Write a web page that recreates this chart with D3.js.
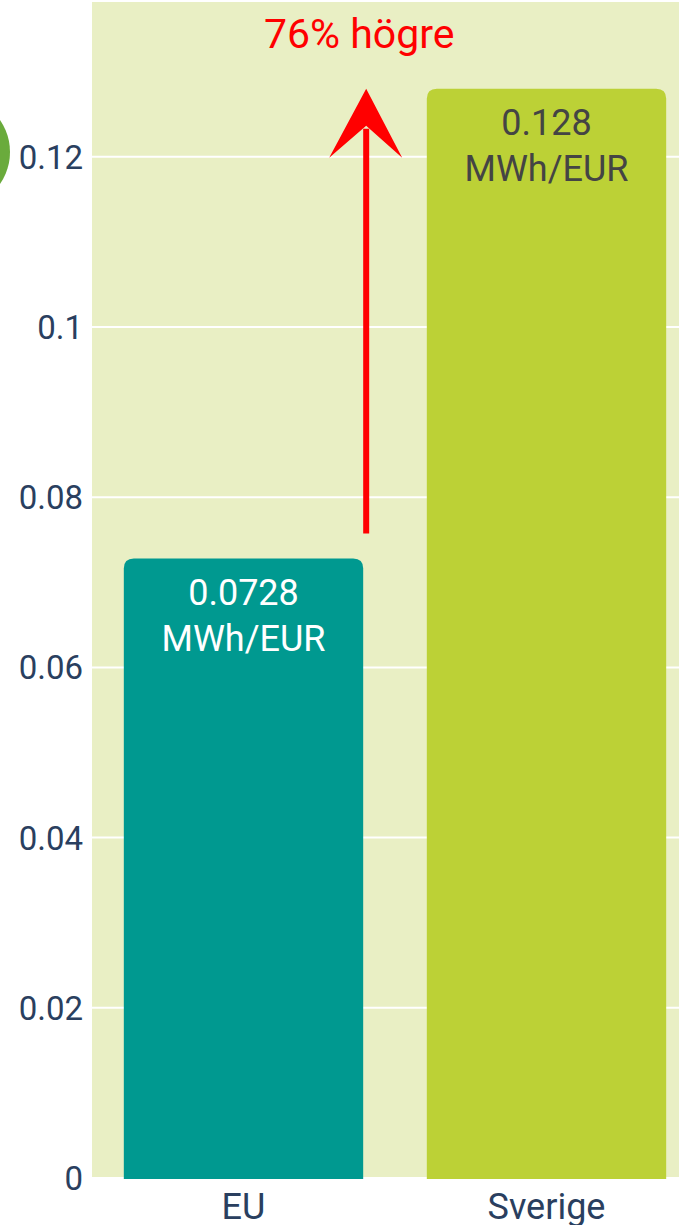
<!DOCTYPE html>
<html><head><meta charset="utf-8">
<script src="https://cdn.jsdelivr.net/npm/d3@7"></script>
<style>html,body{margin:0;padding:0;background:#fff;overflow:hidden}svg{display:block}</style>
</head><body>
<svg id="c" width="679" height="1225"></svg>
<script>
const categories = ["EU", "Sverige"];
const values = [0.0728, 0.128];
const valueLabels = ["0.0728", "0.128"];
const unitLabel = "MWh/EUR";
const yTicks = [0, 0.02, 0.04, 0.06, 0.08, 0.1, 0.12];
const annotationText = "76% högre";

const W = 679, H = 1225;
const plot = {left: 92, right: 679, top: 2, bottom: 1178};
const svg = d3.select("#c");
const font = "Roboto, 'Noto Sans', sans-serif";

const x = d3.scaleBand().domain(categories).range([plot.left, 698]).paddingInner(0.21).paddingOuter(0.105);
const y = d3.scaleLinear().domain([0, 0.1382]).range([plot.bottom, plot.top]);

// decorative circle at left
svg.append("circle").attr("cx", -46).attr("cy", 152).attr("r", 56).attr("fill", "#6aab3c");

// plot background
svg.append("rect").attr("x", plot.left).attr("y", plot.top)
  .attr("width", plot.right - plot.left).attr("height", plot.bottom - plot.top - 1)
  .attr("fill", "#e9efc4");

// gridlines
svg.append("g").selectAll("line").data(yTicks.filter(d => d > 0)).join("line")
  .attr("x1", plot.left).attr("x2", plot.right)
  .attr("y1", d => y(d)).attr("y2", d => y(d))
  .attr("stroke", "#ffffff").attr("stroke-width", 2);

// y axis labels
const yAxis = d3.axisLeft(y).tickValues(yTicks).tickFormat(d => String(+d.toFixed(2))).tickSize(0).tickPadding(9);
const ya = svg.append("g").attr("transform", `translate(${plot.left},0)`).call(yAxis);
ya.select(".domain").remove();
ya.selectAll("text").attr("font-family", font).attr("font-size", 33).attr("fill", "#2a3f5f").attr("dy", "0.35em");

// bars with rounded top corners
const colors = ["#009990", "#bcd136"];
const r = 10;
function barPath(x0, w, yTop, yBot) {
  return `M${x0},${yBot} L${x0},${yTop + r} Q${x0},${yTop} ${x0 + r},${yTop} L${x0 + w - r},${yTop} Q${x0 + w},${yTop} ${x0 + w},${yTop + r} L${x0 + w},${yBot} Z`;
}
svg.append("g").selectAll("path").data(categories).join("path")
  .attr("d", (c, i) => barPath(x(c), x.bandwidth(), y(values[i]), plot.bottom + 1))
  .attr("fill", (c, i) => colors[i]);

// bar labels
const textColors = ["#ffffff", "#444444"];
categories.forEach((c, i) => {
  const cx = x(c) + x.bandwidth() / 2;
  const t = svg.append("text").attr("x", cx).attr("y", y(values[i]) + 46)
    .attr("text-anchor", "middle").attr("font-family", font).attr("font-size", 36).attr("fill", textColors[i]);
  t.append("tspan").attr("x", cx).text(valueLabels[i]);
  t.append("tspan").attr("x", cx).attr("dy", 46).text(unitLabel);
});

// x axis labels
const xAxis = d3.axisBottom(x).tickSize(0).tickPadding(15);
const xa = svg.append("g").attr("transform", `translate(0,${plot.bottom})`).call(xAxis);
xa.select(".domain").remove();
xa.selectAll("text").attr("font-family", font).attr("font-size", 36).attr("fill", "#2a3f5f");

// annotation arrow
const ax = x("EU") + x.bandwidth() + 3;
const yStart = y(values[0]) - 25;
const yTip = y(values[1]);
svg.append("line").attr("x1", ax).attr("x2", ax).attr("y1", yStart).attr("y2", yTip + 40)
  .attr("stroke", "#ff0000").attr("stroke-width", 6);
svg.append("path")
  .attr("d", `M${ax},${yTip} L${ax - 37},${yTip + 69} L${ax},${yTip + 37} L${ax + 36},${yTip + 69} Z`)
  .attr("fill", "#ff0000");
svg.append("text").attr("x", ax - 7).attr("y", 48).attr("text-anchor", "middle")
  .attr("font-family", font).attr("font-size", 41).attr("fill", "#ff0000").text(annotationText);
</script>
</body></html>
